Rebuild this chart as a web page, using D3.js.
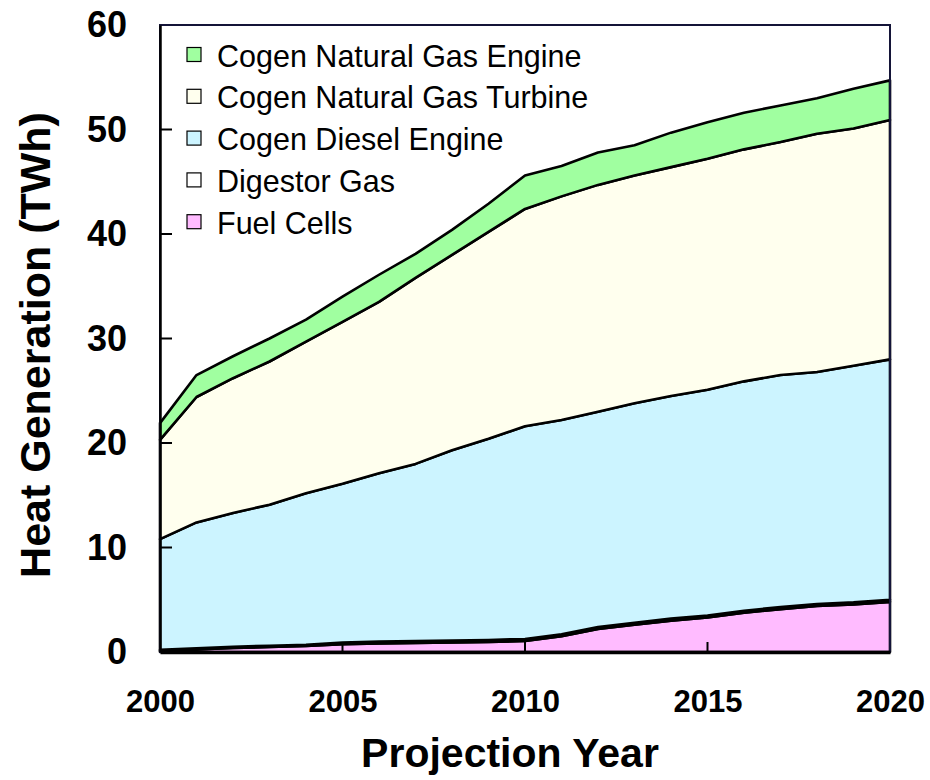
<!DOCTYPE html>
<html>
<head>
<meta charset="utf-8">
<script src="https://cdn.jsdelivr.net/npm/d3@7"></script>
<style>
  html, body { margin: 0; padding: 0; background: #ffffff; }
  svg { display: block; font-family: "Liberation Sans", Arial, sans-serif; }
</style>
</head>
<body>
<svg id="chart" width="930" height="780"></svg>
<script>
// ---- Data (TWh) ----
const years = [2000, 2001, 2002, 2003, 2004, 2005, 2006, 2007, 2008, 2009, 2010,
               2011, 2012, 2013, 2014, 2015, 2016, 2017, 2018, 2019, 2020];

const fuelCells   = [0.10, 0.25, 0.38, 0.48, 0.57, 0.75, 0.83, 0.87, 0.92, 0.97, 1.05,
                     1.50, 2.20, 2.60, 3.00, 3.30, 3.75, 4.10, 4.40, 4.55, 4.80];
const digestorGas = [0.10, 0.10, 0.12, 0.12, 0.13, 0.15, 0.17, 0.18, 0.18, 0.18, 0.20,
                     0.20, 0.20, 0.20, 0.20, 0.20, 0.20, 0.20, 0.20, 0.20, 0.20];
const dieselEngine = [10.6, 12.05, 12.8, 13.5, 14.5, 15.2, 16.1, 16.95, 18.2, 19.25, 20.35,
                      20.5, 20.6, 21.0, 21.3, 21.6, 21.95, 22.2, 22.2, 22.65, 23.0];
const gasTurbine  = [9.5, 12.0, 12.9, 13.7, 14.5, 15.5, 16.4, 17.8, 18.7, 19.8, 20.8,
                     21.4, 21.7, 21.8, 21.9, 22.1, 22.2, 22.3, 22.8, 22.7, 22.9];
const gasEngine   = [1.6, 2.1, 2.1, 2.2, 2.1, 2.4, 2.6, 2.3, 2.4, 2.7, 3.2,
                     2.9, 3.1, 2.9, 3.3, 3.5, 3.5, 3.5, 3.4, 3.8, 3.8];

const seriesNames = ["Fuel Cells", "Digestor Gas", "Cogen Diesel Engine",
                     "Cogen Natural Gas Turbine", "Cogen Natural Gas Engine"];
const seriesColors = ["#ffbbff", "#ffffff", "#ccf4ff", "#ffffee", "#a0ffa0"];
const seriesValues = [fuelCells, digestorGas, dieselEngine, gasTurbine, gasEngine];

const yTicks = [0, 10, 20, 30, 40, 50, 60];
const xTicks = [2000, 2005, 2010, 2015, 2020];

// ---- Build table ----
const table = years.map((yr, i) => {
  const row = { year: yr };
  seriesNames.forEach((n, k) => row[n] = seriesValues[k][i]);
  return row;
});

const svg = d3.select("#chart");
const m = { left: 160, right: 890, top: 25, bottom: 652 };

const x = d3.scaleLinear().domain([2000, 2020]).range([m.left, m.right]);
const y = d3.scaleLinear().domain([0, 60]).range([m.bottom, m.top]);

const stack = d3.stack().keys(seriesNames);
const layers = stack(table);

const area = d3.area()
  .x(d => x(d.data.year))
  .y0(d => y(d[0]))
  .y1(d => y(d[1]))
  .curve(d3.curveLinear);

// plot frame background
svg.append("rect")
  .attr("x", m.left).attr("y", m.top)
  .attr("width", m.right - m.left).attr("height", m.bottom - m.top)
  .attr("fill", "#ffffff");

// areas
svg.append("g").selectAll("path")
  .data(layers)
  .join("path")
  .attr("d", area)
  .attr("fill", (d, i) => seriesColors[i])
  .attr("stroke", "#000")
  .attr("stroke-width", 2.6)
  .attr("stroke-linejoin", "round");

// frame
svg.append("rect")
  .attr("x", m.left).attr("y", m.top)
  .attr("width", m.right - m.left).attr("height", m.bottom - m.top)
  .attr("fill", "none")
  .attr("stroke", "#141438")
  .attr("stroke-width", 2);

// y axis
const yAxis = d3.axisLeft(y).tickValues(yTicks).tickSize(0).tickPadding(33).tickFormat(d3.format("d"));
const gy = svg.append("g").attr("transform", `translate(${m.left},0)`).call(yAxis);
gy.select(".domain").attr("stroke", "#000").attr("stroke-width", 2.5);
gy.selectAll("text")
  .attr("font-family", "'Liberation Sans', Arial, sans-serif")
  .attr("font-size", 36).attr("font-weight", "bold").attr("fill", "#000");
// inner y ticks
svg.append("g").selectAll("line")
  .data(yTicks.filter(t => t > 0 && t < 60))
  .join("line")
  .attr("x1", m.left).attr("x2", m.left + 12)
  .attr("y1", d => y(d)).attr("y2", d => y(d))
  .attr("stroke", "#000").attr("stroke-width", 2);

// x axis
const xAxis = d3.axisBottom(x).tickValues(xTicks).tickSize(0).tickPadding(38).tickFormat(d3.format("d"));
const gx = svg.append("g").attr("transform", `translate(0,${m.bottom})`).call(xAxis);
gx.select(".domain").attr("stroke", "#000").attr("stroke-width", 3.5);
gx.selectAll("text")
  .attr("font-family", "'Liberation Sans', Arial, sans-serif")
  .attr("font-size", 31).attr("font-weight", "bold").attr("fill", "#000");
// inner x ticks
svg.append("g").selectAll("line")
  .data(xTicks.filter(t => t > 2000 && t < 2020))
  .join("line")
  .attr("x1", d => x(d)).attr("x2", d => x(d))
  .attr("y1", m.bottom).attr("y2", m.bottom - 10)
  .attr("stroke", "#000").attr("stroke-width", 2);

// axis titles
svg.append("text")
  .attr("x", 510).attr("y", 767)
  .attr("text-anchor", "middle")
  .attr("font-size", 41).attr("font-weight", "bold")
  .text("Projection Year");

svg.append("text")
  .attr("transform", "translate(50,345) rotate(-90)")
  .attr("text-anchor", "middle")
  .attr("font-size", 43).attr("font-weight", "bold")
  .text("Heat Generation (TWh)");

// legend (top to bottom: engine, turbine, diesel, digestor, fuel cells)
const legendOrder = [4, 3, 2, 1, 0];
const lg = svg.append("g");
legendOrder.forEach((k, row) => {
  const by = 66.5 + row * 41.8;
  lg.append("rect")
    .attr("x", 187).attr("y", by - 19)
    .attr("width", 14).attr("height", 14)
    .attr("fill", seriesColors[k])
    .attr("stroke", "#000").attr("stroke-width", 1.2);
  lg.append("text")
    .attr("x", 217).attr("y", by)
    .attr("font-size", 30.5)
    .attr("fill", "#000")
    .text(seriesNames[k]);
});
</script>
</body>
</html>
